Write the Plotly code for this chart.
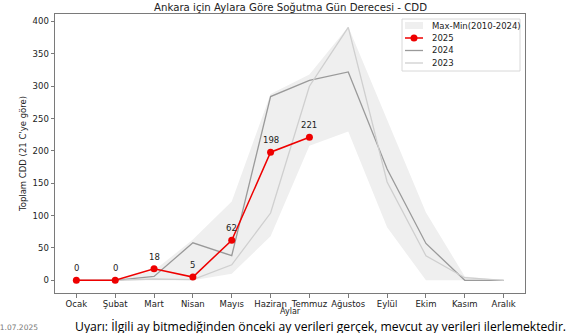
import plotly.graph_objects as go

months = ['Ocak', 'Şubat', 'Mart', 'Nisan', 'Mayıs', 'Haziran', 'Temmuz',
          'Ağustos', 'Eylül', 'Ekim', 'Kasım', 'Aralık']
cdd_2025 = [0, 0, 18, 5, 62, 198, 221]
cdd_2024 = [0, 0, 6, 58, 38, 284, 309, 322, 172, 57, 0, 0]
cdd_2023 = [0, 0, 2, 1, 24, 104, 300, 391, 152, 38, 4, 0]
band_max = [0, 1, 15, 63, 122, 288, 318, 392, 248, 105, 6, 0]
band_min = [0, 0, 0, 0, 10, 68, 208, 230, 82, 0, 0, 0]
yticks = [0, 50, 100, 150, 200, 250, 300, 350, 400]

legend_labels = ['Max-Min(2010-2024)', '2025', '2024', '2023']
title = 'Ankara için Aylara Göre Soğutma Gün Derecesi - CDD'
note = 'Uyarı: İlgili ay bitmediğinden önceki ay verileri gerçek, mevcut ay verileri ilerlemektedir.'
date_text = '01.07.2025'

FONT = 'DejaVu Sans'
BAND = '#efefef'
C24 = '#9a9a9a'
C23 = '#cfcfcf'
RED = '#ee0000'
xi = list(range(len(months)))

fig = go.Figure()
fig.add_trace(go.Scatter(x=xi, y=band_min, mode='lines', line=dict(width=0),
                         showlegend=False, hoverinfo='skip'))
fig.add_trace(go.Scatter(x=xi, y=band_max, mode='lines', line=dict(width=0),
                         fill='tonexty', fillcolor=BAND,
                         name=legend_labels[0], showlegend=False))
fig.add_trace(go.Scatter(x=xi, y=cdd_2024, mode='lines',
                         line=dict(color=C24, width=1.3),
                         name=legend_labels[2], showlegend=False))
fig.add_trace(go.Scatter(x=xi, y=cdd_2023, mode='lines',
                         line=dict(color=C23, width=1.3),
                         name=legend_labels[3], showlegend=False))
fig.add_trace(go.Scatter(x=xi[:len(cdd_2025)], y=cdd_2025, mode='lines+markers',
                         line=dict(color=RED, width=1.5),
                         marker=dict(color=RED, size=7),
                         name=legend_labels[1], showlegend=False))

for i, v in enumerate(cdd_2025):
    fig.add_annotation(x=i, y=v, text=str(v), showarrow=False, yshift=12,
                       font=dict(family=FONT, size=8.5, color='#222'))

# ---- compact legend box (matplotlib style) ----
L, T, W, H = 55, 14, 470, 279


def px(x):
    return (x - L) / W


def py(y):
    return (T + H - y) / H


shapes = []
shapes.append(dict(type='rect', xref='paper', yref='paper',
                   x0=px(402), x1=px(520), y0=py(71), y1=py(19),
                   fillcolor='white', line=dict(color='#d8d8d8', width=1), layer='above'))
rows = [25.5, 38, 50.5, 63]
shapes.append(dict(type='rect', xref='paper', yref='paper',
                   x0=px(405), x1=px(423), y0=py(rows[0] + 3.5), y1=py(rows[0] - 3.5),
                   fillcolor=BAND, line=dict(width=0), layer='above'))
for r, c, w in [(rows[1], RED, 1.5), (rows[2], C24, 1.3), (rows[3], C23, 1.3)]:
    shapes.append(dict(type='line', xref='paper', yref='paper',
                       x0=px(405), x1=px(423), y0=py(r), y1=py(r),
                       line=dict(color=c, width=w), layer='above'))
shapes.append(dict(type='circle', xref='paper', yref='paper',
                   x0=px(410.5), x1=px(417.5), y0=py(rows[1] + 3.5), y1=py(rows[1] - 3.5),
                   fillcolor=RED, line=dict(width=0), layer='above'))
for r, lab in zip(rows, legend_labels):
    fig.add_annotation(xref='paper', yref='paper', x=px(430), y=py(r),
                       xanchor='left', yanchor='middle', text=lab, showarrow=False,
                       font=dict(family=FONT, size=8.5, color='#222'))

fig.add_annotation(xref='paper', yref='paper', x=0.5, y=py(7.5),
                   text=title, showarrow=False, yanchor='middle',
                   font=dict(family=FONT, size=10.2, color='#222'))
fig.add_annotation(xref='paper', yref='paper', x=0.5, y=py(311),
                   text='Aylar', showarrow=False, yanchor='middle',
                   font=dict(family=FONT, size=8, color='#222'))
fig.add_annotation(xref='paper', yref='paper', x=px(568), y=py(326.5), yanchor='middle',
                   xanchor='right', text=note, showarrow=False,
                   font=dict(family='Open Sans', size=12.2, color='#000'))
fig.add_annotation(xref='paper', yref='paper', x=px(40), y=py(327.5), yanchor='middle',
                   xanchor='right', text=date_text, showarrow=False,
                   font=dict(family=FONT, size=7.5, color='#777'))

axis_common = dict(showline=True, mirror=True, linecolor='#7a7a7a', linewidth=1,
                   ticks='outside', ticklen=3.5, tickcolor='#7a7a7a',
                   showgrid=False, zeroline=False, automargin=False,
                   tickfont=dict(family=FONT, size=8.5, color='#222'))
fig.update_xaxes(range=[-0.55, 11.55], tickvals=xi, ticktext=months,
                 ticklabelstandoff=-1, **axis_common)
fig.update_yaxes(range=[-19.6, 411.6], tickvals=yticks,
                 title=dict(text="Toplam CDD (21 C'ye göre)",
                            font=dict(family=FONT, size=8.5, color='#222'), standoff=4),
                 **axis_common)

fig.update_layout(
    width=570, height=333,
    margin=dict(l=L, r=570 - L - W, t=T, b=333 - T - H),
    paper_bgcolor='white', plot_bgcolor='white',
    shapes=shapes, showlegend=False,
)

fig.write_html('out.html')
